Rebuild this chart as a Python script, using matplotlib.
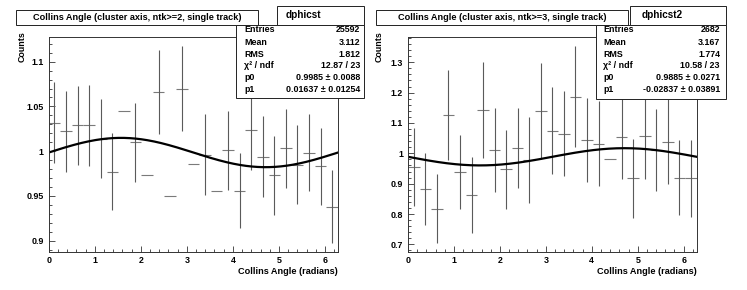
import numpy as np
import matplotlib
matplotlib.use("Agg")
import matplotlib.pyplot as plt
from matplotlib.patches import Rectangle
from matplotlib.ticker import MultipleLocator, FormatStrFormatter

plt.rcParams['font.family'] = ['Liberation Sans', 'DejaVu Sans']
plt.rcParams['font.weight'] = 'bold'

W, H = 747, 290
NBINS = 25

# ---- data ----
# ntk>=2 histogram (dphicst)
vals_a = [1.032, 1.022, 1.029, 1.029, 1.014, 0.977, 1.045, 1.010, 0.973, 1.066,
          0.950, 1.070, 0.986, 0.996, 0.955, 1.001, 0.956, 1.024, 0.994, 0.973,
          1.003, 0.985, 0.998, 0.983, 0.938]
errs_a = [0.045, 0.045, 0.044, 0.045, 0.044, 0.043, 0.0, 0.044, 0.0, 0.047,
          0.0, 0.047, 0.0, 0.045, 0.0, 0.044, 0.042, 0.045, 0.045, 0.044,
          0.044, 0.044, 0.043, 0.043, 0.041]
stats_a = [("Entries", "25592"), ("Mean", "3.112"), ("RMS", "1.812"),
           ("χ² / ndf", "12.87 / 23"), ("p0", "0.9985 ± 0.0088"),
           ("p1", "0.01637 ± 0.01254")]
fit_a = (0.9985, 0.01637)

# ntk>=3 histogram (dphicst2)
vals_b = [0.954, 0.882, 0.817, 1.126, 0.937, 0.862, 1.142, 1.011, 0.947, 1.017,
          0.978, 1.139, 1.075, 1.065, 1.187, 1.045, 1.031, 0.982, 1.055, 0.918,
          1.056, 1.010, 1.038, 0.920, 0.918]
errs_b = [0.129, 0.118, 0.114, 0.147, 0.122, 0.125, 0.159, 0.138, 0.129, 0.132,
          0.142, 0.158, 0.144, 0.140, 0.165, 0.138, 0.140, 0.0, 0.140, 0.130,
          0.140, 0.135, 0.140, 0.124, 0.127]
stats_b = [("Entries", "2682"), ("Mean", "3.167"), ("RMS", "1.774"),
           ("χ² / ndf", "10.58 / 23"), ("p0", "0.9885 ± 0.0271"),
           ("p1", "-0.02837 ± 0.03891")]
fit_b = (0.9885, -0.02837)

fig = plt.figure(figsize=(W / 100, H / 100), dpi=100)


def fx(px):
    return px / W


def fy(py):
    return 1 - py / H


def box(x0, y0, x1, y1):
    fig.patches.append(Rectangle((fx(x0), fy(y1)), fx(x1) - fx(x0), fy(y0) - fy(y1),
                                 transform=fig.transFigure, facecolor='white',
                                 edgecolor='#222222', linewidth=0.7, zorder=5))


def panel(x0, x1, y0, y1, ylim, ymaj, ymin, vals, errs, fit):
    ax = fig.add_axes([fx(x0), fy(y1), fx(x1) - fx(x0), fy(y0) - fy(y1)])
    edges = np.linspace(0, 2 * np.pi, NBINS + 1)
    centers = 0.5 * (edges[:-1] + edges[1:])
    vals = np.array(vals)
    errs = np.array(errs)
    ax.hlines(vals, edges[:-1], edges[1:], color='#7a7a7a', linewidth=0.8)
    m = errs > 0
    ax.vlines(centers[m], vals[m] - errs[m], vals[m] + errs[m], color='#5a5a5a', linewidth=0.8)
    xs = np.linspace(0, 2 * np.pi, 300)
    ax.plot(xs, fit[0] + fit[1] * np.sin(xs), color='black', linewidth=1.6)
    ax.set_xlim(0, 2 * np.pi)
    ax.set_ylim(*ylim)
    ax.xaxis.set_major_locator(MultipleLocator(1))
    ax.xaxis.set_minor_locator(MultipleLocator(0.2))
    ax.yaxis.set_major_locator(MultipleLocator(ymaj))
    ax.yaxis.set_minor_locator(MultipleLocator(ymin))
    ax.yaxis.set_major_formatter(FormatStrFormatter('%g'))
    ax.tick_params(which='both', direction='in', top=False, right=False,
                   labelsize=6.4, width=0.6, color='#333333')
    ax.tick_params(which='major', length=4.5)
    ax.tick_params(which='minor', length=2.2)
    ax.tick_params(axis='y', pad=3.5)
    ax.tick_params(axis='x', pad=3.0)
    for lab in ax.get_xticklabels() + ax.get_yticklabels():
        lab.set_fontweight('bold')
    for s in ax.spines.values():
        s.set_linewidth(0.7)
        s.set_color('#333333')
    return ax


def decorate(title, tbox, hbox, hname, hname_x, body, stats, lab_x, val_x,
             counts_x, xlab_right):
    box(*tbox)
    fig.text(fx((tbox[0] + tbox[2]) / 2), fy((tbox[1] + tbox[3]) / 2 + 0.3), title,
             ha='center', va='center', fontsize=6.6, fontweight='bold', zorder=6)
    box(*body)
    box(*hbox)
    fig.text(fx(hname_x), fy((hbox[1] + hbox[3]) / 2), hname,
             ha='center', va='center', fontsize=7.2, fontweight='bold', zorder=6)
    rows_y = [30, 42, 54.2, 66, 78, 90]
    for (k, v), ry in zip(stats, rows_y):
        fig.text(fx(lab_x), fy(ry), k, ha='left', va='center', fontsize=6.4,
                 fontweight='bold', zorder=6)
        fig.text(fx(val_x), fy(ry), v, ha='right', va='center', fontsize=6.4,
                 fontweight='bold', zorder=6)
    fig.text(fx(counts_x), fy(31), "Counts", rotation=90, ha='center', va='top',
             fontsize=6.4, fontweight='bold')
    fig.text(fx(xlab_right), fy(271.5), "Collins Angle (radians)", ha='right', va='center',
             fontsize=6.6, fontweight='bold')


panel(48.7, 338, 36.7, 251.7, (0.8877, 1.1279), 0.05, 0.01, vals_a, errs_a, fit_a)
panel(408, 696.7, 36.7, 252.3, (0.674, 1.384), 0.1, 0.02, vals_b, errs_b, fit_b)

decorate("Collins Angle (cluster axis, ntk>=2, single track)",
         (16, 10, 258.3, 25), (277, 6, 363.5, 25), "dphicst", 303,
         (236, 25, 363.5, 98), stats_a, 244.3, 360.5, 22, 337.5)
decorate("Collins Angle (cluster axis, ntk>=3, single track)",
         (376.3, 10, 628, 25), (629.7, 6, 726.3, 25), "dphicst2", 662,
         (596.3, 25, 726.3, 99.3), stats_b, 603, 720, 379, 697)

fig.savefig("out.png", dpi=100, facecolor='white')
